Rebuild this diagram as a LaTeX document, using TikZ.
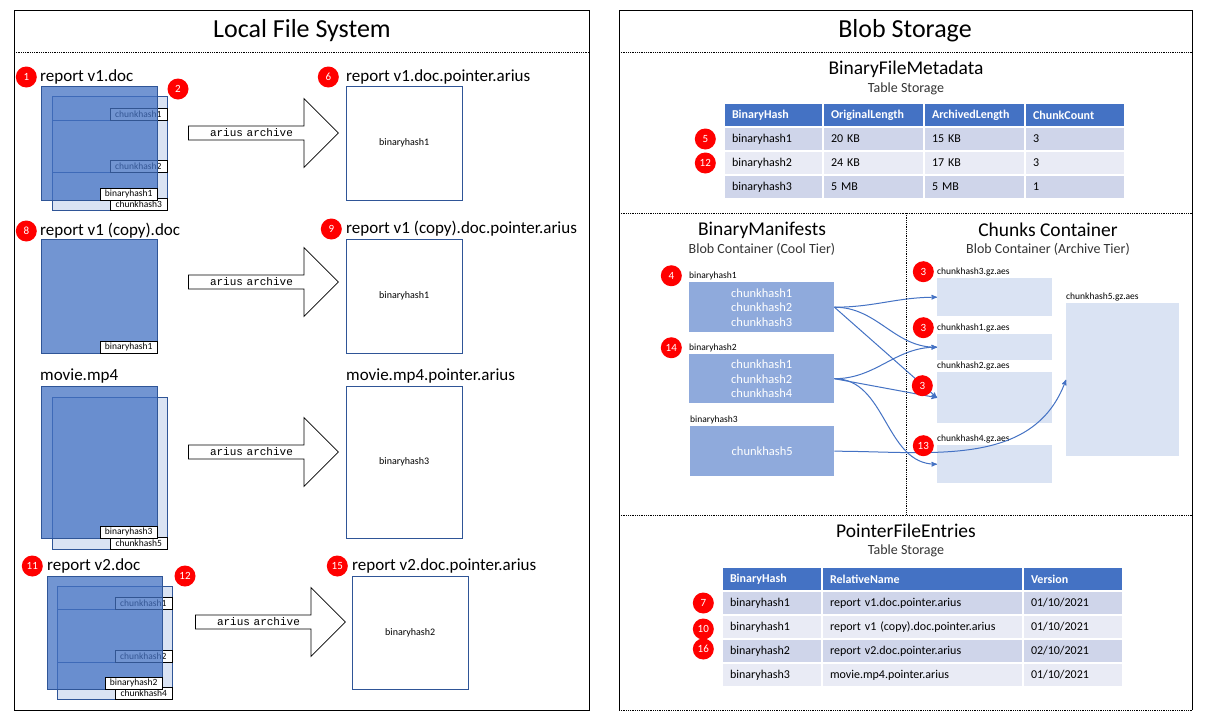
\documentclass[tikz,border=0pt]{standalone}
\usepackage{fontspec}
\setmainfont{Carlito}
\setmonofont{Liberation Mono}
\usetikzlibrary{positioning,shapes.arrows,arrows}

\definecolor{hdrblue}{HTML}{4472C4}
\definecolor{edgeblue}{HTML}{2F5597}
\definecolor{paleblue}{HTML}{DAE3F3}
\definecolor{midblue}{HTML}{8FAADC}
\definecolor{rowdark}{HTML}{CFD5EA}
\definecolor{rowlight}{HTML}{E9EBF5}
\definecolor{badgered}{HTML}{FF0000}

\newcommand{\fsz}[1]{\fontsize{#1}{#1}\selectfont}

\begin{document}
\begin{tikzpicture}[%
    x=1pt, y=-1pt,              % work in screen pixels, y pointing down
    >=stealth',                 % small filled tips for the blob links
    node distance=3pt,
    ]
% -------------------------------------------------
% Styles
\tikzset{
  panel/.style={draw, line width=1pt, anchor=north west},
  sep/.style={densely dotted, line width=0.8pt},
  title/.style={font=\fsz{26}},
  heading/.style={font=\fsz{19.5}},
  kind/.style={font=\fsz{14}, text=black!80},
  badge/.style={circle, fill=badgered, text=white, inner sep=0pt, minimum size=21pt, font=\fsz{11}},
  fname/.style={anchor=west, inner sep=0pt, font=\fsz{17}},
  % a file is a translucent front page over a pale chunk page
  front/.style={draw=edgeblue, fill=hdrblue, fill opacity=0.75, anchor=north west, inner sep=0pt, minimum width=116pt},
  back/.style={draw=edgeblue, fill=paleblue, anchor=north west, inner sep=0pt, minimum width=115pt},
  tag/.style={draw, fill=white, anchor=south east, inner sep=0pt, minimum width=57pt, minimum height=12pt, font=\fsz{9.5}},
  pointer/.style={draw=edgeblue, fill=white, anchor=north west, minimum width=116pt, font=\fsz{10}},
  archive/.style={single arrow, draw, fill=white, line width=0.7pt, single arrow head extend=17.5pt,
    minimum width=69pt, minimum height=150pt, inner sep=0pt, text width=100pt, align=left,
    font=\ttfamily\fsz{11}},
  % blob storage parts
  cell/.style={anchor=north west, draw=white, line width=2pt, inner xsep=8pt, inner ysep=0pt,
    minimum height=24pt, align=left, font=\fsz{12}},
  head/.style={cell, fill=hdrblue, text=white, font=\fsz{12}\bfseries},
  manifest/.style={fill=midblue, text=white, anchor=north west, minimum width=145pt, minimum height=50pt,
    align=center, font=\fontsize{12.5}{14.5}\selectfont},
  chunk/.style={fill=paleblue, anchor=north west, minimum width=115pt},
  small/.style={inner sep=0pt, font=\fsz{9.5}},
  link/.style={->, hdrblue, line width=1pt},
}
\path[use as bounding box, fill=white] (0,0) rectangle (1206,718);

% -------------------------------------------------
% Local file system
\node[panel, minimum width=575pt, minimum height=700pt] (lfs) at (14,10) {};
\node[title] (lfstitle) at (302,31) {Local File System};
\draw[sep] (14,52) -- (589,52);

% report v1.doc
\node[fname] (f1name) at (40,77) {report v1.doc};
\node[back, minimum height=114pt] (back1) at (52,96) {};
\draw[edgeblue] (52,120) -- (167,120) (52,172) -- (167,172);
\node[tag] (t1a) at (167,120) {chunkhash1};
\node[tag] (t1b) at (167,172) {chunkhash2};
\node[tag] (t1c) at (back1.south east) {chunkhash3};
\node[front, minimum height=114pt] (front1) at (41,86) {};
\node[tag] (t1d) at (front1.south east) {binaryhash1};
\node[archive] (arc1) at (260,133) {arius archive};
\node[pointer, minimum height=114pt] (ptr1) at (346,86) {binaryhash1};
\node[fname] (p1name) at (346,77) {report v1.doc.pointer.arius};

% report v1 (copy).doc
\node[fname] (f2name) at (40,231) {report v1 (copy).doc};
\node[front, minimum height=114pt] (front2) at (41,239) {};
\node[tag] (t2a) at (front2.south east) {binaryhash1};
\node[archive] (arc2) at (260,282) {arius archive};
\node[pointer, minimum height=114pt] (ptr2) at (346,239) {binaryhash1};
\node[fname] (p2name) at (346,229) {report v1 (copy).doc.pointer.arius};

% movie.mp4
\node[fname] (f3name) at (40,376) {movie.mp4};
\node[back, minimum height=152pt] (back3) at (52,397) {};
\node[tag] (t3a) at (back3.south east) {chunkhash5};
\node[front, minimum height=152pt] (front3) at (41,386) {};
\node[tag] (t3b) at (front3.south east) {binaryhash3};
\node[archive] (arc3) at (260,452) {arius archive};
\node[pointer, minimum height=152pt] (ptr3) at (346,386) {binaryhash3};
\node[fname] (p3name) at (346,376) {movie.mp4.pointer.arius};

% report v2.doc
\node[fname] (f4name) at (47,566) {report v2.doc};
\node[back, minimum height=113pt] (back4) at (57,586) {};
\draw[edgeblue] (57,609) -- (172,609) (57,662) -- (172,662);
\node[tag] (t4a) at (172,609) {chunkhash1};
\node[tag] (t4b) at (172,662) {chunkhash2};
\node[tag] (t4c) at (back4.south east) {chunkhash4};
\node[front, minimum width=115pt, minimum height=113pt] (front4) at (47,576) {};
\node[tag] (t4d) at (front4.south east) {binaryhash2};
\node[archive] (arc4) at (267,622) {arius archive};
\node[pointer, minimum height=113pt] (ptr4) at (352,576) {binaryhash2};
\node[fname] (p4name) at (352,566) {report v2.doc.pointer.arius};

% -------------------------------------------------
% Blob storage
\draw[line width=1pt] (619,710) -- (619,10) -- (1192,10) -- (1192,710);
\node[title] (blobtitle) at (905,31) {Blob Storage};
\draw[sep] (619,52) -- (1192,52) (619,213) -- (1192,213) (906,213) -- (906,515)
  (619,515) -- (1192,515) (619,710) -- (1192,710);

% BinaryFileMetadata table
\node[heading] (metatitle) at (906,69) {BinaryFileMetadata};
\node[kind] (metakind) at (906,89) {Table Storage};
\node[head, text width=83pt] (mhash) at (723,102) {BinaryHash};
\node[head, text width=85pt] (morig) at (822,102) {OriginalLength};
\node[head, text width=85pt] (march) at (923,102) {ArchivedLength};
\node[head, text width=84pt] (mcnt) at (1024,102) {ChunkCount};
\foreach \shade/\hash/\orig/\arch/\cnt [count=\i] in
  {rowdark/binaryhash1/20 KB/15 KB/3, rowlight/binaryhash2/24 KB/17 KB/3, rowdark/binaryhash3/5 MB/5 MB/1} {
  \node[cell, fill=\shade, text width=83pt] (hash\i) at (723,{102+24*\i}) {\hash};
  \node[cell, fill=\shade, text width=85pt] (orig\i) at (822,{102+24*\i}) {\orig};
  \node[cell, fill=\shade, text width=85pt] (arch\i) at (923,{102+24*\i}) {\arch};
  \node[cell, fill=\shade, text width=84pt] (cnt\i) at (1024,{102+24*\i}) {\cnt};
}

% BinaryManifests
\node[heading] (mftitle) at (762,230) {BinaryManifests};
\node[kind] (mfkind) at (762,249) {Blob Container (Cool Tier)};
\node[manifest] (mf1) at (689,282) {chunkhash1\\chunkhash2\\chunkhash3};
\node[manifest, minimum height=49pt] (mf2) at (689,354) {chunkhash1\\chunkhash2\\chunkhash4};
\node[manifest, minimum width=144pt] (mf3) at (690,426) {chunkhash5};
\node[small, above right=2pt and 0pt of mf1.north west] (mf1lab) {binaryhash1};
\node[small, above right=2pt and 0pt of mf2.north west] (mf2lab) {binaryhash2};
\node[small, above right=2pt and 0pt of mf3.north west] (mf3lab) {binaryhash3};

% Chunks container
\node[heading] (gztitle) at (1048,230) {Chunks Container};
\node[kind] (gzkind) at (1048,249) {Blob Container (Archive Tier)};
\node[chunk, minimum height=38pt] (gz3) at (937,278) {};
\node[chunk, minimum height=26pt] (gz1) at (937,334) {};
\node[chunk, minimum height=51pt] (gz2) at (937,372) {};
\node[chunk, minimum height=38pt] (gz4) at (937,445) {};
\node[chunk, minimum width=113pt, minimum height=153pt] (gz5) at (1066,303) {};
\node[small, above right=2pt and 0pt of gz3.north west] (gz3lab) {chunkhash3.gz.aes};
\node[small, above right=2pt and 0pt of gz1.north west] (gz1lab) {chunkhash1.gz.aes};
\node[small, above right=2pt and 0pt of gz2.north west] (gz2lab) {chunkhash2.gz.aes};
\node[small, above right=2pt and 0pt of gz4.north west] (gz4lab) {chunkhash4.gz.aes};
\node[small, above right=2pt and 0pt of gz5.north west] (gz5lab) {chunkhash5.gz.aes};

% manifest -> chunk links
\draw[link] (mf1.east) to[out=0,in=180] (gz3.west);
\draw[link] (mf1.east) to[out=0,in=180] (gz1.west);
\draw[link] (mf1.east) -- (gz2.west);
\draw[link] (mf2.east) to[out=0,in=180] (gz1.west);
\draw[link] (mf2.east) -- (gz2.west);
\draw[link] (mf2.east) to[out=0,in=180] (gz4.west);
\draw[link] (mf3.east) to[out=0,in=-110] (gz5.west);

% PointerFileEntries table
\node[heading] (pfetitle) at (906,531) {PointerFileEntries};
\node[kind] (pfekind) at (906,551) {Table Storage};
\node[head, text width=84pt] (phash) at (721,566) {BinaryHash};
\node[head, text width=185pt] (prel) at (821,566) {RelativeName};
\node[head, text width=84pt] (pver) at (1022,566) {Version};
\foreach \shade/\hash/\rel/\ver [count=\i] in
  {rowdark/binaryhash1/{report v1.doc.pointer.arius}/{01/10/2021},
   rowlight/binaryhash1/{report v1 (copy).doc.pointer.arius}/{01/10/2021},
   rowdark/binaryhash2/{report v2.doc.pointer.arius}/{02/10/2021},
   rowlight/binaryhash3/{movie.mp4.pointer.arius}/{01/10/2021}} {
  \node[cell, fill=\shade, text width=84pt] (phash\i) at (721,{566+24*\i}) {\hash};
  \node[cell, fill=\shade, text width=185pt] (prel\i) at (821,{566+24*\i}) {\rel};
  \node[cell, fill=\shade, text width=84pt] (pver\i) at (1022,{566+24*\i}) {\ver};
}

% -------------------------------------------------
% Step badges
\node[badge, left=3pt of f1name] (n1) {1};
\node[badge] (n2) at (178,89) {2};
\node[badge, left=7pt of p1name] (n6) {6};
\node[badge, left=3pt of f2name] (n8) {8};
\node[badge, left=4pt of p2name] (n9) {9};
\node[badge, left=4pt of f4name] (n11) {11};
\node[badge] (n12) at (185,576) {12};
\node[badge, left=4pt of p4name] (n15) {15};
\node[badge, left=7pt of hash1] (n5) {5};
\node[badge, left=7pt of hash2] (n12b) {12};
\node[badge, left=7pt of mf1lab] (n4) {4};
\node[badge, left=7pt of mf2lab] (n14) {14};
\node[badge, left=3pt of gz3lab] (n3a) {3};
\node[badge, left=3pt of gz1lab] (n3b) {3};
\node[badge, left=4pt of gz2.west, yshift=12pt] (n3c) {3};
\node[badge, left=3pt of gz4lab, yshift=-7pt] (n13) {13};
\node[badge, left=7pt of phash1] (n7) {7};
\node[badge, left=7pt of phash2, yshift=-2pt] (n10) {10};
\node[badge, left=7pt of phash3, yshift=2pt] (n16) {16};
\end{tikzpicture}
\end{document}
